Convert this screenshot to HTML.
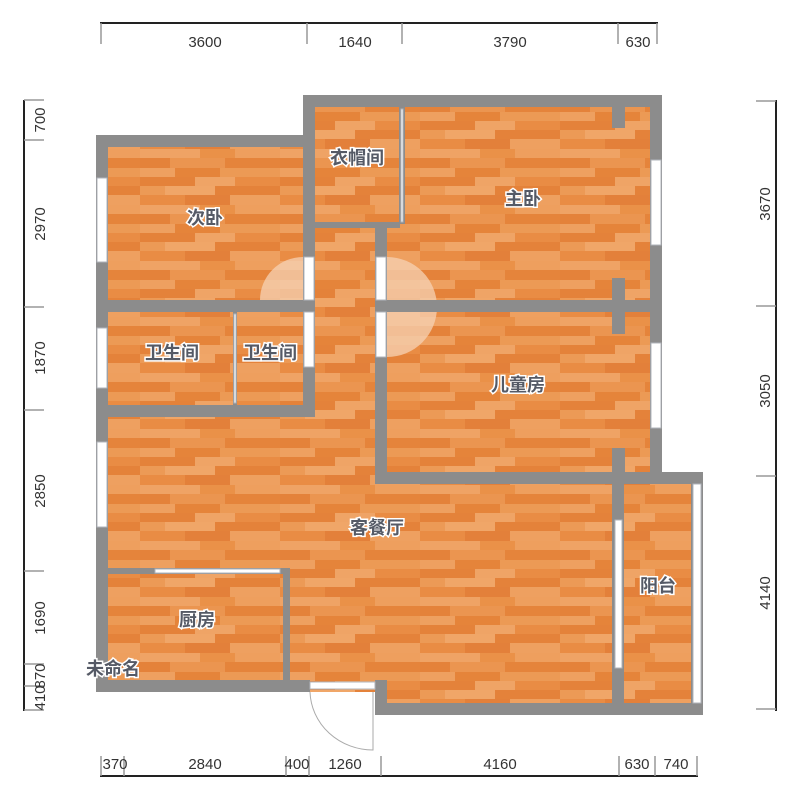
<!DOCTYPE html>
<html><head><meta charset="utf-8"><style>
html,body{margin:0;padding:0;background:#fff;}
svg{display:block;}
.t{font-family:"Liberation Sans","Noto Sans CJK SC",sans-serif;font-size:18px;font-weight:bold;fill:#555a66;stroke:#fff;stroke-width:3px;paint-order:stroke;text-anchor:middle;}
.d{font-family:"Liberation Sans","Noto Sans CJK SC",sans-serif;font-size:15px;fill:#333;text-anchor:middle;}
</style></head><body>
<svg width="800" height="800" viewBox="0 0 800 800" xmlns="http://www.w3.org/2000/svg">
<defs>
<pattern id="wood" patternUnits="userSpaceOnUse" width="140" height="56">
<rect width="140" height="56" fill="#e98c44"/>
<rect x="0" y="0" width="35" height="9" fill="#eea060"/><rect x="35" y="0" width="45" height="9" fill="#e5843a"/><rect x="80" y="0" width="60" height="9" fill="#ec9a55"/>
<rect x="0" y="9" width="55" height="9" fill="#e4823a"/><rect x="55" y="9" width="40" height="9" fill="#efa466"/><rect x="95" y="9" width="45" height="9" fill="#e98c44"/>
<rect x="0" y="18" width="25" height="9" fill="#ec9a56"/><rect x="25" y="18" width="50" height="9" fill="#f0a668"/><rect x="75" y="18" width="65" height="9" fill="#e4823a"/>
<rect x="0" y="27" width="45" height="10" fill="#e98c44"/><rect x="45" y="27" width="45" height="10" fill="#e3803a"/><rect x="90" y="27" width="50" height="10" fill="#eea060"/>
<rect x="0" y="37" width="60" height="9" fill="#efa365"/><rect x="60" y="37" width="35" height="9" fill="#ea9148"/><rect x="95" y="37" width="45" height="9" fill="#ee9f5e"/>
<rect x="0" y="46" width="30" height="10" fill="#e4823a"/><rect x="30" y="46" width="55" height="10" fill="#eb9550"/><rect x="85" y="46" width="55" height="10" fill="#e5843b"/>
</pattern>
</defs>
<g fill="url(#wood)">
<rect x="96" y="135" width="219" height="557"/>
<rect x="303" y="95" width="359" height="389"/>
<rect x="287" y="410" width="100" height="282"/>
<rect x="375" y="472" width="328" height="243"/>
</g>
<path d="M303 257 A43 43 0 0 0 260 300 L303 300Z" fill="#f6d2b4" opacity="0.75"/>
<path d="M387 257 A50 50 0 0 1 387 357Z" fill="#f6d2b4" opacity="0.75"/>
<g fill="#8c8c8c">
<rect x="96" y="135" width="219" height="12"/>
<rect x="96" y="135" width="12" height="557"/>
<rect x="303" y="95" width="12" height="322"/>
<rect x="303" y="95" width="359" height="12"/>
<rect x="650" y="95" width="12" height="389"/>
<rect x="612" y="472" width="91" height="12"/>
<rect x="691" y="472" width="12" height="243"/>
<rect x="375" y="703" width="328" height="12"/>
<rect x="96" y="680" width="214" height="12"/>
<rect x="375" y="680" width="12" height="35"/>
<rect x="96" y="300" width="219" height="12"/>
<rect x="96" y="405" width="219" height="12"/>
<rect x="315" y="222" width="85" height="6"/>
<rect x="375" y="222" width="12" height="262"/>
<rect x="375" y="300" width="287" height="12"/>
<rect x="375" y="472" width="287" height="12"/>
<rect x="612" y="472" width="12" height="243"/>
<rect x="612" y="95" width="13" height="33"/>
<rect x="612" y="278" width="13" height="56"/>
<rect x="612" y="448" width="13" height="36"/>
<rect x="96" y="568" width="194" height="6"/>
<rect x="283" y="568" width="7" height="124"/>
<rect x="233" y="312" width="4" height="93"/>
<rect x="399" y="107" width="6" height="117"/>
</g>
<g fill="#fff" stroke="#b0b4bb" stroke-width="1">
<rect x="97" y="178" width="10" height="84"/>
<rect x="97" y="328" width="10" height="60"/>
<rect x="97" y="442" width="10" height="85"/>
<rect x="651" y="160" width="10" height="85"/>
<rect x="651" y="343" width="10" height="85"/>
<rect x="693" y="484" width="8" height="219"/>
<rect x="615" y="520" width="7" height="148"/>
<rect x="155" y="569" width="125" height="4"/>
<rect x="304" y="257" width="10" height="43"/>
<rect x="304" y="312" width="10" height="55"/>
<rect x="376" y="257" width="10" height="43"/>
<rect x="376" y="312" width="10" height="45"/>
<rect x="234" y="314" width="2" height="89"/>
<rect x="401" y="109" width="2" height="113"/>
<rect x="310" y="682" width="65" height="7"/>
</g>
<path d="M310 692 A63 60 0 0 0 373 750 L373 692" fill="none" stroke="#aaa" stroke-width="1"/>
<text class="t" x="205" y="224">次卧</text>
<text class="t" x="357" y="164">衣帽间</text>
<text class="t" x="523" y="205">主卧</text>
<text class="t" x="172" y="359">卫生间</text>
<text class="t" x="270" y="359">卫生间</text>
<text class="t" x="518" y="391">儿童房</text>
<text class="t" x="377" y="534">客餐厅</text>
<text class="t" x="658" y="592">阳台</text>
<text class="t" x="197" y="626">厨房</text>
<text class="t" x="113" y="675">未命名</text>
<g stroke="#222" stroke-width="2" fill="none">
<line x1="100" y1="23" x2="658" y2="23"/>
<line x1="24" y1="100" x2="24" y2="711"/>
<line x1="776" y1="100" x2="776" y2="711"/>
<line x1="100" y1="776" x2="698" y2="776"/>
</g>
<g stroke="#999" stroke-width="1.5">
<line x1="101" y1="23" x2="101" y2="44"/><line x1="307" y1="23" x2="307" y2="44"/><line x1="402" y1="23" x2="402" y2="44"/><line x1="618" y1="23" x2="618" y2="44"/><line x1="657" y1="23" x2="657" y2="44"/>
<line x1="24" y1="100" x2="44" y2="100"/><line x1="24" y1="140" x2="44" y2="140"/><line x1="24" y1="307" x2="44" y2="307"/><line x1="24" y1="410" x2="44" y2="410"/><line x1="24" y1="571" x2="44" y2="571"/><line x1="24" y1="664" x2="44" y2="664"/><line x1="24" y1="686" x2="44" y2="686"/><line x1="24" y1="710" x2="44" y2="710"/>
<line x1="756" y1="101" x2="776" y2="101"/><line x1="756" y1="306" x2="776" y2="306"/><line x1="756" y1="476" x2="776" y2="476"/><line x1="756" y1="709" x2="776" y2="709"/>
<line x1="101" y1="756" x2="101" y2="776"/><line x1="124" y1="756" x2="124" y2="776"/><line x1="286" y1="756" x2="286" y2="776"/><line x1="309" y1="756" x2="309" y2="776"/><line x1="381" y1="756" x2="381" y2="776"/><line x1="619" y1="756" x2="619" y2="776"/><line x1="655" y1="756" x2="655" y2="776"/><line x1="697" y1="756" x2="697" y2="776"/>
</g>
<text class="d" x="205" y="47">3600</text><text class="d" x="355" y="47">1640</text><text class="d" x="510" y="47">3790</text><text class="d" x="638" y="47">630</text>
<text class="d" x="115" y="769">370</text><text class="d" x="205" y="769">2840</text><text class="d" x="297" y="769">400</text><text class="d" x="345" y="769">1260</text><text class="d" x="500" y="769">4160</text><text class="d" x="637" y="769">630</text><text class="d" x="676" y="769">740</text>
<text class="d" transform="translate(45,120) rotate(-90)">700</text>
<text class="d" transform="translate(45,224) rotate(-90)">2970</text>
<text class="d" transform="translate(45,358) rotate(-90)">1870</text>
<text class="d" transform="translate(45,491) rotate(-90)">2850</text>
<text class="d" transform="translate(45,618) rotate(-90)">1690</text>
<text class="d" transform="translate(45,676) rotate(-90)">870</text>
<text class="d" transform="translate(45,698) rotate(-90)">410</text>
<text class="d" transform="translate(770,204) rotate(-90)">3670</text>
<text class="d" transform="translate(770,391) rotate(-90)">3050</text>
<text class="d" transform="translate(770,593) rotate(-90)">4140</text>
</svg>
</body></html>
